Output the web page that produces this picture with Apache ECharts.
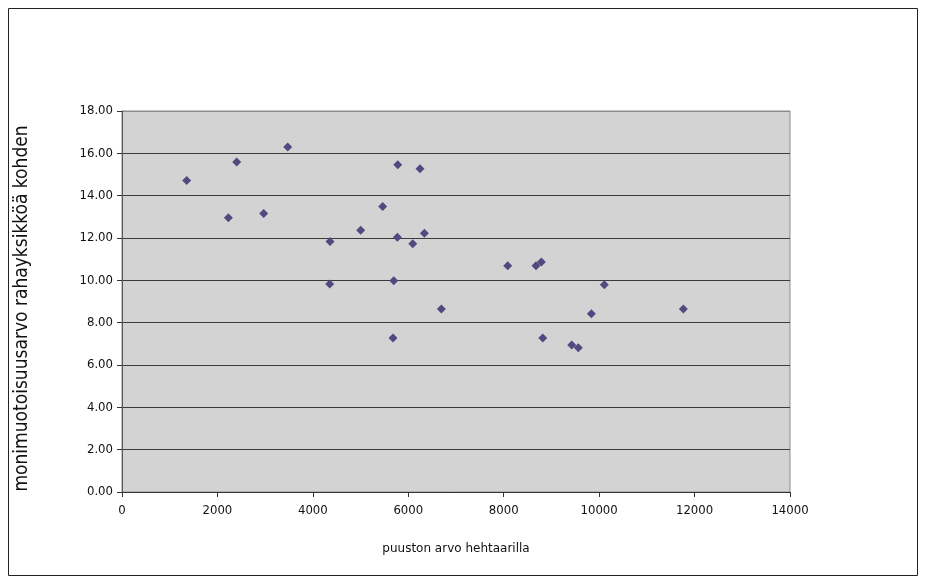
<!DOCTYPE html>
<html>
<head>
<meta charset="utf-8">
<script src="https://cdn.jsdelivr.net/npm/echarts@6/dist/echarts.min.js"></script>
<style>
  html, body { margin: 0; padding: 0; background: #fff; }
  #chart { width: 927px; height: 584px; }
</style>
</head>
<body>
<div id="chart"></div>
<script>
// Puuston arvo (€/ha) ja monimuotoisuusarvo rahayksikköä kohden
const puustonArvo = [
  1356, 2229, 2404, 2970, 3473, 4360, 4353, 5003, 5464, 5779,
  5771, 5695, 5680, 6093, 6246, 6337, 6693, 8084, 8677, 8789,
  8818, 9426, 9564, 9837, 10109, 11765
];
const monimuotoisuusarvo = [
  14.72, 12.96, 15.59, 13.16, 16.30, 11.83, 9.83, 12.37, 13.49, 15.46,
  12.04, 9.98, 7.28, 11.73, 15.27, 12.23, 8.64, 10.69, 10.69, 10.87,
  7.27, 6.95, 6.82, 8.42, 9.79, 8.64
];
const xTicks = { min: 0, max: 14000, step: 2000 };
const yTicks = { min: 0, max: 18, step: 2 };
const xTitle = 'puuston arvo hehtaarilla';
const yTitle = 'monimuotoisuusarvo rahayksikköä kohden';

const points = puustonArvo.map((x, i) => [x, monimuotoisuusarvo[i]]);

const narrow = "'Liberation Sans Narrow', 'DejaVu Sans Condensed', 'Liberation Sans', sans-serif";

// gridline colours: darker inside the plot, lighter at the top edge
const splitColors = [];
for (let v = yTicks.min; v <= yTicks.max; v += yTicks.step) {
  splitColors.push(v === yTicks.max ? '#8c8c8c' : '#3a3a3a');
}

const chart = echarts.init(document.getElementById('chart'), null, { renderer: 'canvas' });
chart.setOption({
  animation: false,
  backgroundColor: '#ffffff',
  graphic: [{
    type: 'rect',
    shape: { x: 8.5, y: 8.5, width: 909, height: 567 },
    style: { fill: 'none', stroke: '#222', lineWidth: 1 },
    silent: true,
    z: -1
  }],
  grid: {
    left: 122, right: 137, top: 111, bottom: 92,
    show: true,
    backgroundColor: '#d3d3d3',
    borderColor: '#8c8c8c',
    borderWidth: 1
  },
  xAxis: {
    type: 'value',
    min: xTicks.min, max: xTicks.max, interval: xTicks.step,
    name: xTitle,
    nameLocation: 'middle',
    nameGap: 51,
    nameTextStyle: { fontFamily: 'DejaVu Sans', fontSize: 12, color: '#111' },
    axisLine: { show: true, onZero: false, lineStyle: { color: '#333', width: 1 } },
    axisTick: { show: true, inside: false, length: 5, lineStyle: { color: '#333' } },
    axisLabel: {
      margin: 12, fontFamily: narrow, fontSize: 13, color: '#111',
      formatter: v => String(v)
    },
    splitLine: { show: false }
  },
  yAxis: {
    type: 'value',
    min: yTicks.min, max: yTicks.max, interval: yTicks.step,
    name: yTitle,
    nameLocation: 'middle',
    nameGap: 90,
    nameRotate: 90,
    nameTextStyle: { fontFamily: narrow, fontSize: 19, color: '#111', padding: [0, 14, 0, 0] },
    axisLine: { show: true, lineStyle: { color: '#555', width: 1 } },
    axisTick: { show: true, inside: false, length: 5, lineStyle: { color: '#333' } },
    axisLabel: {
      margin: 9,
      fontFamily: narrow, fontSize: 13, color: '#111',
      formatter: v => v.toFixed(2)
    },
    splitLine: { show: true, lineStyle: { color: splitColors, width: 1 } }
  },
  series: [{
    type: 'scatter',
    data: points,
    symbol: 'diamond',
    symbolSize: 9,
    itemStyle: { color: '#4f4a80', opacity: 1 }
  }]
});
</script>
</body>
</html>
